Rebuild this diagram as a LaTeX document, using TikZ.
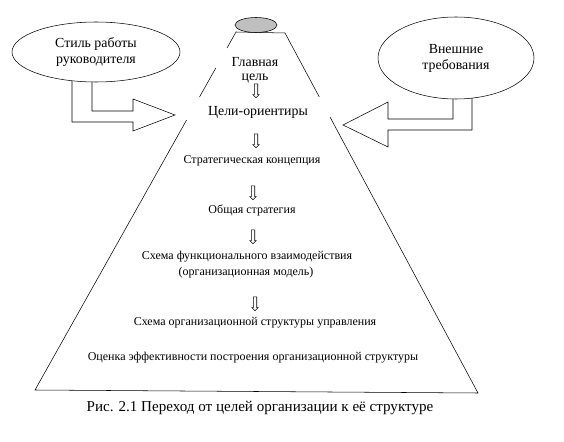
\documentclass[tikz,border=0pt]{standalone}
\usepackage{fontspec}
\setmainfont{Liberation Serif}
\newfontfamily\timesfont{Liberation Serif}
\usetikzlibrary{shapes.geometric,shapes.arrows}
\tikzset{
  big/.style={font=\timesfont\fontsize{10.4}{11}\selectfont, inner sep=0pt},
  small/.style={font=\timesfont\fontsize{9}{10}\selectfont, inner sep=0pt},
  oval/.style={ellipse, draw, fill=white, align=center, font=\timesfont\fontsize{10.4}{12}\selectfont},
  down/.style={single arrow, draw, shape border rotate=270, minimum height=10.5pt,
    minimum width=4.5pt, single arrow head extend=1.1pt, inner sep=1.1pt},
  blockarrow/.style={draw, fill=white},
}
\begin{document}
\begin{tikzpicture}[x=0.75pt, y=-0.75pt]
	\useasboundingbox (0,0) rectangle (564,442);
	% pyramid
	\draw (227,48) -- (236,32) -- (285,33) -- (319.3,97);
	\draw (215.8,68) -- (199.5,97);
	\draw (186.6,120) -- (35,390) -- (478,393) -- (330,117);
	\node (top) [ellipse, draw, fill=lightgray, minimum width=31.5pt, minimum height=11.25pt] at (256,25) {};
	% side arrows
	\draw[blockarrow] (72,75) -- (72,122) -- (133,122) -- (133,131) -- (175,115)
		-- (133,99) -- (133,111) -- (92,111) -- (92,75);
	\draw[blockarrow] (453,90) -- (453,119) -- (388,119) -- (388,102) -- (343,125)
		-- (388,147) -- (388,130) -- (472,130) -- (472,90);
	\node (style) [oval, minimum width=126pt, minimum height=45pt] at (96,52) {Стиль работы\\руководителя};
	\node (ext) [oval, minimum width=117pt, minimum height=61.5pt] at (456,58) {Внешние\\требования};
	% goals
	\node (main) [big] at (255,62) {Главная};
	\node (goal) [big] at (255,79) {цель};
	\node (orient) [big] at (258,112) {Цели-ориентиры};
	\node (concept) [small] at (252,161) {Стратегическая концепция};
	\node (strat) [small] at (252,210) {Общая стратегия};
	\node (func) [small] at (247,257) {Схема функционального взаимодействия};
	\node (model) [small] at (246,273) {(организационная модель)};
	\node (scheme) [small] at (255,323) {Схема организационной структуры управления};
	\node (eval) [small] at (253,358) {Оценка эффективности построения организационной структуры};
	\node (d1) [down] at (256,90) {};
	\node (d2) [down] at (256,140) {};
	\node (d3) [down] at (253,192) {};
	\node (d4) [down] at (253,236) {};
	\node (d5) [down] at (255,303) {};
	\node (caption) [font=\timesfont\fontsize{11.3}{13}\selectfont, inner sep=0pt] at (260,408) {Рис. 2.1 Переход от целей организации к её структуре};
\end{tikzpicture}
\end{document}
